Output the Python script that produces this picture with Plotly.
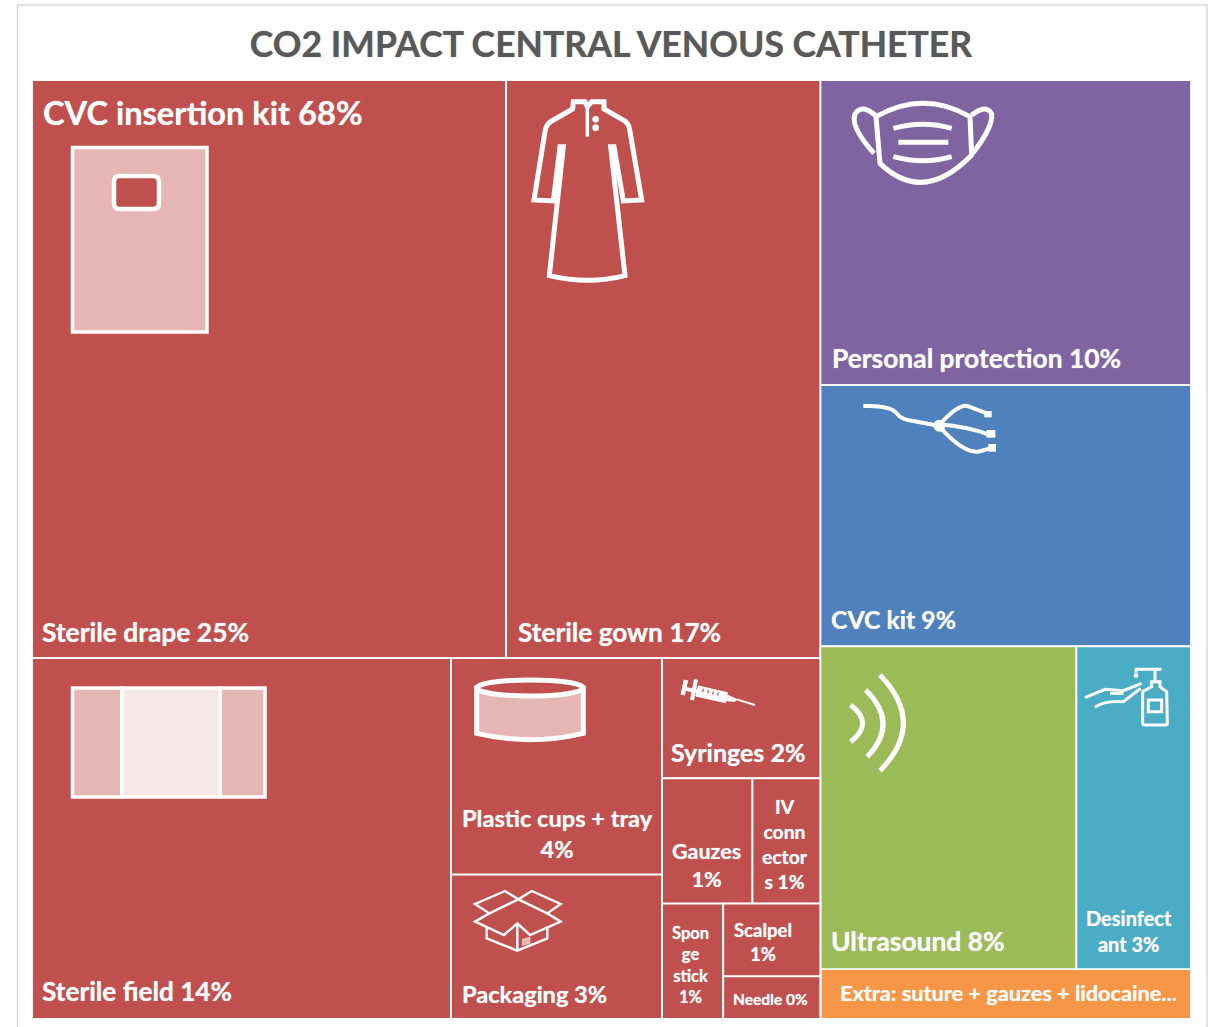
import re
import plotly.graph_objects as go

W, H = 1218, 1027
RED, PURPLE, BLUE, GREEN, TEAL, ORANGE = "#c0504d", "#8064a2", "#4f81bd", "#9bbb59", "#4bacc6", "#f79646"
PINK, PALE = "#e6b6b4", "#f5e8e7"
FONT = "Lato"

node_ids = ["root", "CVC insertion kit", "Kit top", "Sterile drape", "Sterile gown", "Kit bottom", "Sterile field",
            "Cups column", "Plastic cups + tray", "Packaging", "Small column", "Syringes", "Gauze row", "Gauzes",
            "IV connectors", "Sponge row", "Sponge stick", "Scalpel column", "Scalpel", "Needle",
            "Other", "Personal protection", "CVC kit", "Device row", "Ultrasound", "Desinfectant", "Extra"]
node_parents = ["", "root", "CVC insertion kit", "Kit top", "Kit top", "CVC insertion kit", "Kit bottom",
                "Kit bottom", "Cups column", "Cups column", "Kit bottom", "Small column", "Small column", "Gauze row",
                "Gauze row", "Small column", "Sponge row", "Sponge row", "Scalpel column", "Scalpel column",
                "root", "Other", "Other", "Other", "Device row", "Device row", "Other"]
node_values = [0, 0, 0, 25.2, 16.7, 0, 13.9,
               0, 4.2, 2.8, 0, 1.75, 0, 1.04,
               0.78, 0, 0.65, 0, 0.65, 0.38,
               0, 10.4, 8.9, 0, 7.6, 3.4, 1.7]
node_colors = [RED, RED, RED, RED, RED, RED, RED,
               RED, RED, RED, RED, RED, RED, RED,
               RED, RED, RED, RED, RED, RED,
               PURPLE, PURPLE, BLUE, GREEN, GREEN, TEAL, ORANGE]

title_text = "CO2 IMPACT CENTRAL VENOUS CATHETER"
# text, x, y (pixel centre line), anchor, size
label_rows = [
    ("CVC insertion kit 68%", 41, 113, "left", 32.6),
    ("Sterile drape 25%", 40, 632, "left", 26.4),
    ("Sterile gown 17%", 516, 632, "left", 26.2),
    ("Personal protection 10%", 830, 358, "left", 26.4),
    ("CVC kit 9%", 829, 619, "left", 24.8),
    ("Sterile field 14%", 40, 991, "left", 26.2),
    ("Plastic cups + tray<br>4%", 557, 833, "center", 23.6),
    ("Packaging 3%", 460, 994, "left", 23.6),
    ("Syringes 2%", 738, 752, "center", 25),
    ("Gauzes<br>1%", 706, 865, "center", 21.5),
    ("IV<br>conn<br>ector<br>s 1%", 785, 844, "center", 19.3),
    ("Spon<br>ge<br>stick<br>1%", 690, 965, "center", 16.5),
    ("Scalpel<br>1%", 763, 942, "center", 18.5),
    ("Needle 0%", 771, 999, "center", 15.5),
    ("Ultrasound 8%", 829, 941, "left", 26.4),
    ("Desinfect<br>ant 3%", 1129, 931, "center", 20),
    ("Extra: suture + gauzes + lidocaine...", 838, 993, "left", 21.7),
]


def paper(x, y):
    return x / W, 1 - y / H


def icon(path, ox=0, oy=0, s=1.0):
    """Icon outline written in local pixels -> paper coordinates."""
    nums = re.findall(r"[A-Za-z]|-?\d+\.?\d*", path)
    out, pair = [], []
    for t in nums:
        if t.isalpha():
            out.append(t)
        else:
            pair.append(float(t))
            if len(pair) == 2:
                px, py = paper(ox + pair[0] * s, oy + pair[1] * s)
                out.append(f"{px:.5f},{py:.5f}")
                pair = []
    return " ".join(out)


shapes = []


def add_path(path, ox=0, oy=0, s=1.0, lw=3.0, fill=None, color="white"):
    shapes.append(dict(type="path", xref="paper", yref="paper", layer="above", path=icon(path, ox, oy, s),
                       line=dict(color=color, width=lw), fillcolor=fill if fill else "rgba(0,0,0,0)"))


def add_oval(x0, y0, x1, y1, ox=0, oy=0, s=1.0, lw=3.0, fill="white"):
    a, b = paper(ox + x0 * s, oy + y0 * s)
    c, d = paper(ox + x1 * s, oy + y1 * s)
    shapes.append(dict(type="circle", xref="paper", yref="paper", layer="above", x0=a, y0=b, x1=c, y1=d,
                       line=dict(color="white", width=lw), fillcolor=fill))


# outer frame of the picture
add_path("M 17.5 1040 L 17.5 5 L 1207 5 L 1207 1040", lw=1.5, color="#d9d9d9")

# drape
add_path("M 72.5 147.5 L 207 147.5 L 207 332 L 72.5 332 Z", lw=3.5, fill=PINK)
add_path("M 119 176 L 153 176 Q 159 176 159 182 L 159 203 Q 159 209 153 209 L 119 209 Q 114 209 114 203 L 114 182 Q 114 176 119 176 Z",
         lw=4.5, fill=RED)

# field
add_path("M 72.5 688 L 122 688 L 122 797 L 72.5 797 Z", lw=3.5, fill=PINK)
add_path("M 220 688 L 265 688 L 265 797 L 220 797 Z", lw=3.5, fill=PINK)
add_path("M 122 688 L 220 688 L 220 797 L 122 797 Z", lw=3.5, fill=PALE)

# gown
G = dict(ox=510, oy=85, s=1 / 3)
add_path("M 190 50 L 225 50 L 232 65 L 245 50 L 282 50 L 282 72 L 345 108 Q 358 118 360 140 L 395 345 L 340 348 "
         "L 312 185 L 302 185 L 345 572 Q 235 600 118 572 L 160 185 L 150 185 L 130 348 L 72 345 L 105 140 "
         "Q 108 118 125 108 L 188 72 Z", lw=5, **G)
add_path("M 232 65 L 232 155", lw=3.5, **G)
add_oval(247, 93, 267, 113, lw=0, **G)
add_oval(247, 118, 267, 138, lw=0, **G)

# mask
M = dict(ox=830, oy=90, s=1 / 3)
add_path("M 138 80 Q 280 0 420 80 L 425 195 Q 280 345 150 220 Z", lw=5, **M)
add_path("M 135 75 Q 95 40 75 72 Q 60 110 132 190", lw=5, **M)
add_path("M 425 75 Q 470 40 485 72 Q 490 110 428 190", lw=5, **M)
add_path("M 190 115 Q 280 90 365 115", lw=5, **M)
add_path("M 205 157 L 355 157", lw=5, **M)
add_path("M 190 200 Q 280 225 365 200", lw=5, **M)

# catheter
C = dict(ox=850, oy=395, s=1 / 3)
add_path("M 40 33 Q 120 30 140 55 Q 155 75 190 78 L 265 92", lw=4, **C)
add_path("M 268 90 Q 320 30 350 32 L 410 55", lw=4, **C)
add_path("M 268 88 Q 350 95 415 118", lw=4, **C)
add_path("M 268 95 Q 340 175 385 170 L 420 160", lw=4, **C)
add_oval(250, 74, 286, 110, lw=0, **C)
add_path("M 403 48 L 425 48 L 425 67 L 403 67 Z", lw=0, fill="white", **C)
add_path("M 410 105 L 436 105 L 436 128 L 410 128 Z", lw=0, fill="white", **C)
add_path("M 415 147 L 438 147 L 438 170 L 415 170 Z", lw=0, fill="white", **C)

# cups
P = dict(ox=450, oy=660, s=1 / 3)
add_path("M 80 85 L 80 220 Q 240 258 400 220 L 400 85 Z", lw=5, fill=PINK, **P)
add_oval(80, 60, 400, 108, lw=5, fill=RED, **P)

# syringe
add_path("M 745 78 L 832 98 L 826 128 L 737 108 Z", lw=1, fill="white", **P)
add_path("M 832 105 L 860 118 L 855 124 L 826 122 Z", lw=1, fill="white", **P)
add_path("M 860 118 L 915 135", lw=2, **P)
add_path("M 700 85 L 745 95", lw=4, **P)
add_path("M 708 60 L 698 105", lw=4.5, **P)
add_path("M 738 58 L 726 120", lw=4, **P)
add_path("M 760 86 L 758 96 M 775 90 L 773 100 M 790 94 L 788 104 M 805 97 L 803 107", lw=1.2, color=RED, **P)

# box
B = dict(ox=460, oy=880, s=1 / 3)
add_path("M 80 140 L 80 175 L 172 212 L 262 175 L 262 140", lw=2.4, **B)
add_path("M 172 212 L 172 130", lw=2.4, **B)
add_path("M 45 72 L 135 33 L 175 58 L 215 33 L 302 72 L 262 100 L 302 125 L 210 165 L 172 130 L 132 165 "
         "L 45 125 L 88 100 Z", lw=2.4, **B)
add_path("M 88 100 L 175 58 L 262 100", lw=2.4, **B)
add_path("M 187 178 L 210 172 L 210 190 L 187 196 Z", lw=0.5, fill=PINK, **B)

# ultrasound
U = dict(ox=830, oy=660, s=1 / 3)
add_path("M 62 135 Q 134 190 62 245", lw=5, **U)
add_path("M 107 90 Q 209 190 112 290", lw=5, **U)
add_path("M 150 45 Q 290 190 150 332", lw=5, **U)

# dispenser
add_path("M 965 65 L 990 65 L 990 80 L 1010 95 L 1012 190 Q 1012 195 1005 195 L 945 195 Q 938 195 938 188 "
         "L 938 95 L 965 80 Z", lw=3, **U)
add_path("M 955 120 L 995 120 L 995 155 L 955 155 Z", lw=3, **U)
add_path("M 915 28 L 995 28 M 975 28 L 975 65 M 918 28 L 918 38", lw=3, **U)
add_oval(911, 40, 925, 54, lw=0, **U)
add_path("M 765 113 L 825 88 L 880 92 L 935 70", lw=3, **U)
add_path("M 795 142 Q 820 122 880 125 L 932 85", lw=3, **U)
add_path("M 840 100 L 880 100", lw=3, **U)

annotations = []
for text, x, y, anchor, size in label_rows:
    ax, ay = paper(x, y)
    annotations.append(dict(text=text, x=ax, y=ay, xref="paper", yref="paper", xanchor=anchor, yanchor="middle",
                            align=anchor, showarrow=False,
                            font=dict(family=FONT, size=size, color="white", weight="bold",
                                      shadow="0 0 1px rgba(255,255,255,0.7)")))

fig = go.Figure(go.Treemap(
    ids=node_ids, labels=node_ids, parents=node_parents, values=node_values,
    branchvalues="remainder", sort=False, textinfo="none", hoverinfo="skip",
    marker=dict(colors=node_colors, line=dict(color="white", width=1.8), pad=dict(t=0, l=0, r=0, b=0)),
    tiling=dict(packing="slice-dice", pad=0),
    pathbar=dict(visible=False),
    domain=dict(x=[32 / W, 1191 / W], y=[1 - 1019 / H, 1 - 80 / H]),
))
fig.update_layout(
    width=W, height=H, margin=dict(l=0, r=0, t=0, b=0), paper_bgcolor="white", showlegend=False,
    title=dict(text=title_text, x=611 / W, xanchor="center", y=1 - 45 / H, yanchor="middle",
               font=dict(family=FONT, size=35.6, color="#595959", weight="bold",
                         shadow="0 0 1px rgba(89,89,89,0.7)")),
    shapes=shapes, annotations=annotations,
)
fig.write_html("out.html", post_script="document.body.style.margin='0';document.documentElement.style.overflow='hidden';",
               config=dict(displayModeBar=False))
